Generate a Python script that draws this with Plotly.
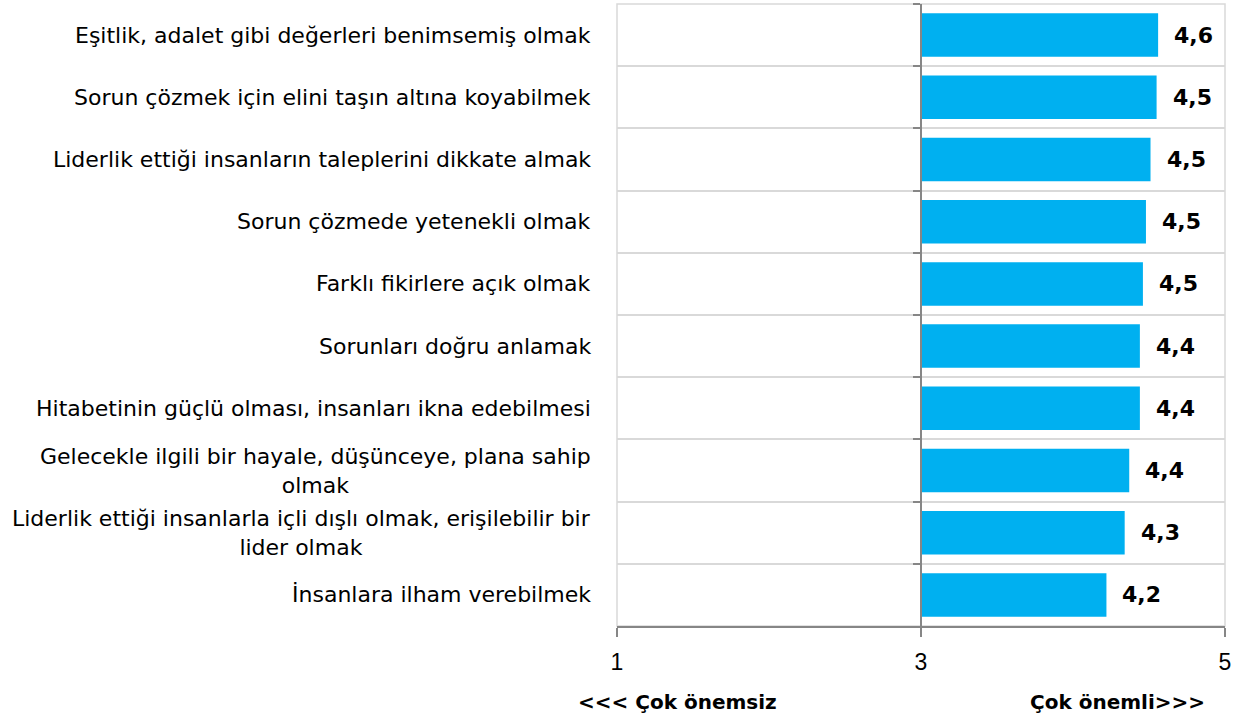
import plotly.graph_objects as go

labels = [
    "Eşitlik, adalet gibi değerleri benimsemiş olmak",
    "Sorun çözmek için elini taşın altına koyabilmek",
    "Liderlik ettiği insanların taleplerini dikkate almak",
    "Sorun çözmede yetenekli olmak",
    "Farklı fikirlere açık olmak",
    "Sorunları doğru anlamak",
    "Hitabetinin güçlü olması, insanları ikna edebilmesi",
    "Gelecekle ilgili bir hayale, düşünceye, plana sahip<br>olmak",
    "Liderlik ettiği insanlarla içli dışlı olmak, erişilebilir bir<br>lider olmak",
    "İnsanlara ilham verebilmek",
]
values = [4.56, 4.55, 4.51, 4.48, 4.46, 4.44, 4.44, 4.37, 4.34, 4.22]
value_text = ["4,6", "4,5", "4,5", "4,5", "4,5", "4,4", "4,4", "4,4", "4,3", "4,2"]
midpoint = 3
x_ticks = [1, 3, 5]

cats = [str(i) for i in range(len(labels))]

fig = go.Figure()
fig.add_trace(go.Bar(y=cats, x=[v - midpoint for v in values], base=midpoint,
                     orientation='h', width=0.7,
                     marker=dict(color='#00b0f0', line=dict(width=0)),
                     hoverinfo='skip'))
# invisible copy, only so the axis line at 3 gets its boundary ticks
fig.add_trace(go.Bar(y=cats, x=[0] * len(cats), base=midpoint, orientation='h',
                     yaxis='y2', opacity=0, hoverinfo='skip'))

annotations = []
for c, lab in zip(cats, labels):
    annotations.append(dict(x=0, xref='paper', y=c, yref='y', text=lab,
                            xanchor='right', align='center', xshift=-24,
                            showarrow=False,
                            font=dict(family='DejaVu Sans', size=22, color='#000000')))
for c, v, t in zip(cats, values, value_text):
    annotations.append(dict(x=v, xref='x', y=c, yref='y', text=t,
                            xanchor='left', xshift=14, showarrow=False,
                            font=dict(family='DejaVu Sans', size=22, color='#000000', weight='bold')))
annotations.append(dict(x=0, xref='paper', y=0, yref='paper', yshift=-76, text='<<< Çok önemsiz',
                        xanchor='left', xshift=-41, yanchor='middle', showarrow=False,
                        font=dict(family='DejaVu Sans', size=20, color='#000000', weight='bold')))
annotations.append(dict(x=1, xref='paper', y=0, yref='paper', yshift=-76, text='Çok önemli>>>',
                        xanchor='right', xshift=-18, yanchor='middle', showarrow=False,
                        font=dict(family='DejaVu Sans', size=20, color='#000000', weight='bold')))

fig.update_layout(
    width=1246, height=722,
    showlegend=False,
    plot_bgcolor='white',
    paper_bgcolor='white',
    margin=dict(l=617, r=21, t=4, b=96),
    xaxis=dict(range=[1, 5], tickvals=x_ticks, showgrid=False, zeroline=False,
               showline=True, linecolor='#868686', linewidth=1.5,
               ticks='outside', ticklen=9, tickcolor='#868686', tickwidth=1.5,
               ticklabelstandoff=6,
               tickfont=dict(family='Liberation Sans', size=23, color='#000000')),
    yaxis=dict(type='category', categoryarray=cats, range=[9.5, -0.5],
               showticklabels=False, ticks='', tickson='boundaries',
               showgrid=True, gridcolor='#d9d9d9', gridwidth=1.5,
               showline=False, zeroline=False),
    yaxis2=dict(type='category', categoryarray=cats, range=[9.5, -0.5],
                overlaying='y', anchor='free', position=0.5, side='left',
                showticklabels=False, showgrid=False, tickson='boundaries',
                ticks='outside', ticklen=7, tickcolor='#868686', tickwidth=1.5,
                showline=True, linecolor='#868686', linewidth=1.5),
    annotations=annotations,
    shapes=[dict(type='rect', xref='paper', yref='paper', x0=0, x1=1, y0=0, y1=1,
                 line=dict(color='#d9d9d9', width=1.5), layer='below')],
)

fig.write_html("out.html", config={'displayModeBar': False},
               post_script="document.body.style.margin='0';")
